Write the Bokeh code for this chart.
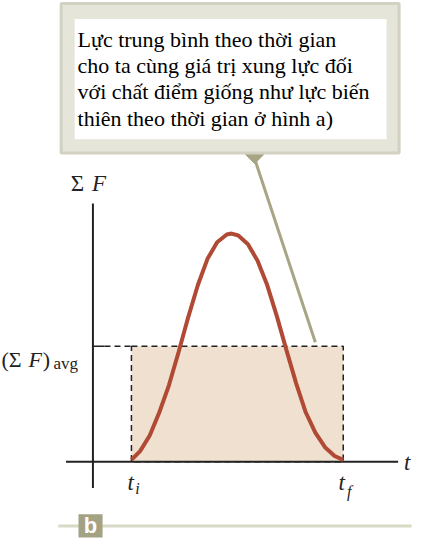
from bokeh.plotting import figure
from bokeh.models import Range1d
from bokeh.core.properties import value
from bokeh.embed import file_html
from bokeh.resources import INLINE

# force curve (time, force), page-like units
curve_t = [136, 145, 155, 165, 175, 185, 195, 205, 215, 225, 235, 240, 247, 257, 267, 277, 287, 297, 307, 317, 327, 337, 347, 356]
curve_f = [473, 464, 448, 424, 396, 362, 326, 293, 266, 249, 241, 240, 242, 251, 268, 293, 325, 360, 394, 424, 445, 460, 469, 473]
t_i, t_f = 136, 356
f_avg = 356
f_zero = 475
note_lines = ["Lực trung bình theo thời gian",
              "cho ta cùng giá trị xung lực đối",
              "với chất điểm giống như lực biến",
              "thiên theo thời gian ở hình a)"]

W, H = 414, 538
p = figure(width=W, height=H, x_range=Range1d(0, 430), y_range=Range1d(554, 0),
           output_backend="svg", toolbar_location=None, min_border=0)
p.axis.visible = False
p.grid.visible = False
p.outline_line_color = None
p.background_fill_color = "white"

serif = value("'Liberation Serif', 'Times New Roman', 'DejaVu Serif', serif")
ink = "#222222"


def label(x, y, s, size, italic=False, color=ink):
    p.text([x], [y], text=[s], text_font=serif, text_font_size=size,
           text_font_style="italic" if italic else "normal",
           text_baseline="middle", text_color=color)


# average-force rectangle
p.quad(left=t_i, right=t_f, top=f_avg, bottom=f_zero, fill_color="#f0e0cf",
       line_color=ink, line_dash="6 4", line_width=1.5)
p.line([96, 108], [f_avg, f_avg], color=ink, line_width=1.5)
p.line([108, t_i], [f_avg, f_avg], color=ink, line_width=1.5, line_dash="6 4")

# axes
p.line([96, 96], [209, 502], color=ink, line_width=2)
p.line([68, 413], [f_zero, f_zero], color=ink, line_width=2)

# force curve
p.line(curve_t, curve_f, color="#b04a35", line_width=4)

# labels
label(73, 188, "Σ", "23px")
label(95, 188, "F", "23px", italic=True)
label(1, 370, "(Σ", "22px")
label(29, 370, "F", "22px", italic=True)
label(44, 370, ")", "22px")
label(55, 374, "avg", "17px")
label(132, 496, "t", "23px", italic=True)
label(140, 503, "i", "16px", italic=True)
label(351, 496, "t", "23px", italic=True)
label(360, 506, "f", "16px", italic=True)
label(419, 476, "t", "23px", italic=True)

# callout
p.line([265, 327], [166, 352], color="#a8a585", line_width=3)
p.patch([252, 276, 264], [156, 156, 168], color="#a8a585")
p.quad(left=63, right=414, top=3, bottom=157, fill_color="#e6e5da",
       line_color="#d2d1c2", line_width=3)
p.quad(left=77, right=401, top=19, bottom=143, fill_color="white", line_color=None)
p.text([80] * 4, [40, 67, 94, 121], text=note_lines, text_font=serif,
       text_font_size="22px", text_baseline="middle", text_color="black")

# panel tag
p.line([60, 427], [541, 541], color="#d8dac6", line_width=3)
p.quad(left=81, right=106, top=529, bottom=553, fill_color="#a3a283", line_color=None)
p.text([93.5], [541], text=["b"], text_font=value("Liberation Sans"), text_font_style="bold",
       text_font_size="22px", text_align="center", text_baseline="middle", text_color="white")

open("out.html", "w").write(file_html(p, INLINE))
